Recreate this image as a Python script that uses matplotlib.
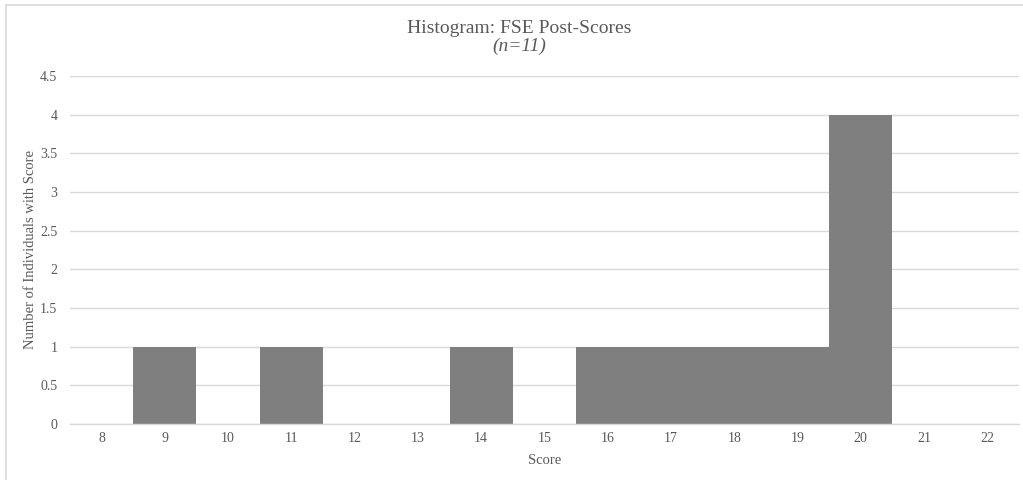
import matplotlib.pyplot as plt
from matplotlib.lines import Line2D

plt.rcParams['font.family'] = ['Liberation Serif', 'DejaVu Serif']

# score bins and how many individuals got each score
scores = [8, 9, 10, 11, 12, 13, 14, 15, 16, 17, 18, 19, 20, 21, 22]
counts = [0, 1, 0, 1, 0, 0, 1, 0, 1, 1, 1, 1, 4, 0, 0]
yticks = [0, 0.5, 1, 1.5, 2, 2.5, 3, 3.5, 4, 4.5]

text_col = '#595959'
grid_col = '#d9d9d9'

fig = plt.figure(figsize=(10.23, 4.8), dpi=100)
ax = fig.add_axes([0.0684, 0.1167, 0.9276, 0.725])

ax.bar(scores, counts, width=1.0, color='#7f7f7f', linewidth=0, zorder=3)

ax.set_xlim(7.5, 22.5)
ax.set_ylim(0, 4.5)
ax.set_xticks(scores)
ax.set_xticklabels([str(s) for s in scores])
ax.set_yticks(yticks)
ax.set_yticklabels(['0', '0.5', '1', '1.5', '2', '2.5', '3', '3.5', '4', '4.5'])
ax.tick_params(axis='both', length=0, labelsize=10, colors=text_col)
ax.tick_params(axis='y', pad=9)
ax.tick_params(axis='x', pad=6)
ax.grid(axis='y', color=grid_col, linewidth=1.0, zorder=0)
for s in ['top', 'right', 'left']:
    ax.spines[s].set_visible(False)
ax.spines['bottom'].set_color(grid_col)
ax.spines['bottom'].set_linewidth(1.0)
ax.spines['bottom'].set_zorder(4)

ax.set_xlabel('Score', fontsize=10.5, color=text_col, labelpad=6)
ax.set_ylabel('Number of Individuals with Score', fontsize=10.5, color=text_col)
ax.yaxis.set_label_coords(-0.0345, 0.5)

fig.text(0.508, 0.94, 'Histogram: FSE Post-Scores', ha='center', va='center',
         fontsize=14, color=text_col)
fig.text(0.508, 0.903, '(n=11)', ha='center', va='center',
         fontsize=14, color=text_col, style='italic')

# thin frame lines along the top and left edge
fig.add_artist(Line2D([0.006, 1.0], [0.989, 0.989], transform=fig.transFigure,
                      color=grid_col, linewidth=1.2))
fig.add_artist(Line2D([0.006, 0.006], [0.0, 0.989], transform=fig.transFigure,
                      color=grid_col, linewidth=1.2))

fig.savefig('out.png', dpi=100)
